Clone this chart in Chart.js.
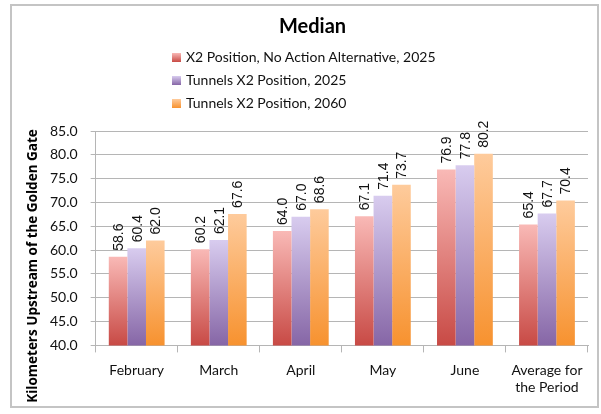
<!DOCTYPE html>
<html>
<head>
<meta charset="utf-8">
<script src="https://cdn.jsdelivr.net/npm/chart.js@4/dist/chart.umd.min.js"></script>
<style>
  html, body { margin: 0; padding: 0; background: #fff; }
  #wrap { position: relative; width: 601px; height: 414px; }
  #frame { position: absolute; left: 10px; top: 4px; width: 585px; height: 400px; border: 2px solid #c4c4c4; pointer-events: none; }
  #legend { position: absolute; left: 172px; top: 45px; font-family: Lato, sans-serif; font-size: 14px; color: #111; }
  #legend .item { height: 23px; line-height: 23px; white-space: nowrap; }
  #legend .box { display: inline-block; width: 9px; height: 9px; margin-right: 5px; vertical-align: 0px; }
  canvas { position: absolute; left: 0; top: 0; }
</style>
</head>
<body>
<div id="wrap">
  <canvas id="c" width="601" height="414"></canvas>
  <div id="legend"></div>
  <div id="frame"></div>
</div>
<script>
const categories = ["February", "March", "April", "May", "June", ["Average for", "the Period"]];
const seriesNames = ["X2 Position, No Action Alternative, 2025", "Tunnels X2 Position, 2025", "Tunnels X2 Position, 2060"];
const noAction2025 = [58.6, 60.2, 64.0, 67.1, 76.9, 65.4];
const tunnels2025 = [60.4, 62.1, 67.0, 71.4, 77.8, 67.7];
const tunnels2060 = [62.0, 67.6, 68.6, 73.7, 80.2, 70.4];
const yTicks = [40, 45, 50, 55, 60, 65, 70, 75, 80, 85];
const yTitle = 'Kilometers Upstream of the Golden Gate';

const gradColors = [
  ["#f9b9b6", "#c84a45"],
  ["#d8ccef", "#8666a6"],
  ["#fecb9c", "#f7922f"]
];

function grad(i) {
  return (ctx) => {
    const chart = ctx.chart;
    const [top, bottom] = gradColors[i];
    if (!chart.chartArea || ctx.type !== 'data') return bottom;
    const y = chart.scales.y;
    const yTop = y.getPixelForValue(ctx.raw);
    const g = chart.ctx.createLinearGradient(0, yTop, 0, y.bottom);
    g.addColorStop(0, top);
    g.addColorStop(1, bottom);
    return g;
  };
}

// HTML legend
const legendEl = document.getElementById('legend');
seriesNames.forEach((n, i) => {
  const d = document.createElement('div');
  d.className = 'item';
  const b = document.createElement('span');
  b.className = 'box';
  b.style.background = `linear-gradient(${gradColors[i][0]}, ${gradColors[i][1]})`;
  d.appendChild(b);
  d.appendChild(document.createTextNode(n));
  legendEl.appendChild(d);
});

const valueLabels = {
  id: 'valueLabels',
  afterDatasetsDraw(chart) {
    const ctx = chart.ctx;
    ctx.save();
    ctx.font = '14px "Liberation Sans", Arial, sans-serif';
    ctx.fillStyle = '#111';
    ctx.textAlign = 'left';
    ctx.textBaseline = 'middle';
    chart.data.datasets.forEach((ds, di) => {
      const meta = chart.getDatasetMeta(di);
      meta.data.forEach((bar, i) => {
        ctx.save();
        ctx.translate(bar.x + 1, bar.y - 6);
        ctx.rotate(-Math.PI / 2);
        ctx.fillText(ds.data[i].toFixed(1), 0, 0);
        ctx.restore();
      });
    });
    ctx.restore();
  }
};

const yAxisTitle = {
  id: 'yAxisTitle',
  afterDraw(chart) {
    const ctx = chart.ctx;
    ctx.save();
    ctx.font = 'bold 13.5px "Open Sans", sans-serif';
    ctx.fillStyle = '#000';
    ctx.textAlign = 'center';
    ctx.textBaseline = 'middle';
    ctx.translate(33, 266);
    ctx.rotate(-Math.PI / 2);
    ctx.fillText(yTitle, 0, 0);
    ctx.restore();
  }
};

const gridColor = '#b5b5b5';
new Chart(document.getElementById('c'), {
  type: 'bar',
  data: {
    labels: categories,
    datasets: [
      { label: seriesNames[0], data: noAction2025, backgroundColor: grad(0) },
      { label: seriesNames[1], data: tunnels2025, backgroundColor: grad(1) },
      { label: seriesNames[2], data: tunnels2060, backgroundColor: grad(2) }
    ]
  },
  options: {
    responsive: false,
    animation: false,
    layout: { padding: { left: 37, right: 13, top: 0, bottom: 8 } },
    datasets: { bar: { categoryPercentage: 0.68, barPercentage: 1.0 } },
    plugins: {
      legend: { display: false },
      tooltip: { enabled: false },
      title: {
        display: true,
        text: 'Median',
        color: '#000',
        font: { family: 'Lato, sans-serif', size: 20, weight: 'bold' },
        padding: { top: 15, bottom: 92 }
      }
    },
    scales: {
      x: {
        grid: { display: true, drawOnChartArea: false, drawTicks: true, tickLength: 7, color: gridColor, offset: true },
        border: { color: gridColor },
        ticks: { color: '#111', font: { family: 'Lato, sans-serif', size: 14 }, padding: 10, maxRotation: 0, autoSkip: false }
      },
      y: {
        min: 40, max: 85,
        afterBuildTicks: (axis) => { axis.ticks = yTicks.map(v => ({ value: v })); },
        grid: { color: gridColor, tickLength: 5 },
        border: { color: gridColor },
        ticks: { color: '#111', font: { family: 'Lato, sans-serif', size: 14 }, padding: 13, callback: v => Number(v).toFixed(1) }
      }
    }
  },
  plugins: [valueLabels, yAxisTitle]
});
</script>
</body>
</html>
